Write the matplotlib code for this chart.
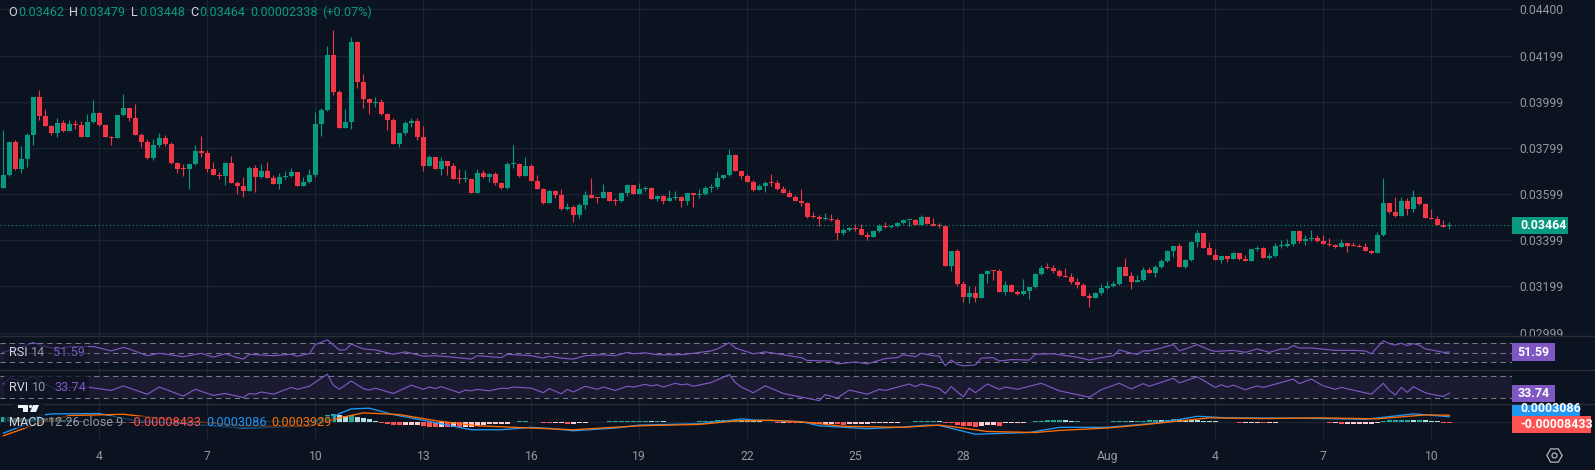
import numpy as np
import matplotlib
matplotlib.use("Agg")
import matplotlib.pyplot as plt
from matplotlib.patches import Rectangle, Polygon, Circle
from matplotlib.ticker import FormatStrFormatter

plt.rcParams['font.family'] = ['Roboto', 'DejaVu Sans']

# ---------- data (prices in units of 1e-5) ----------
first_open = 3627
last_open = 3462
closes = [
3682,3825,3708,3751,3855,4020,3939,3896,3864,3907,
3873,3903,3900,3847,3912,3951,3899,3847,3842,3942,
3972,3929,3855,3825,3756,3812,3842,3816,3734,3708,
3707,3730,3786,3779,3708,3682,3678,3734,3647,3634,
3612,3712,3673,3699,3669,3643,3673,3678,3695,3634,
3651,3682,3903,3964,4202,4042,3886,3912,4258,4085,
4011,3994,3998,3946,3920,3816,3864,3907,3916,3847,
3721,3760,3708,3743,3721,3665,3664,3665,3604,3691,
3673,3686,3647,3626,3730,3731,3678,3721,3656,3621,
3561,3613,3595,3535,3543,3509,3552,3595,3582,3581,
3608,3569,3568,3604,3639,3600,3621,3626,3578,3591,
3569,3582,3587,3569,3604,3595,3598,3626,3630,3669,
3682,3769,3699,3678,3652,3617,3634,3647,3646,3621,
3604,3587,3569,3560,3500,3499,3491,3492,3487,3430,
3443,3452,3449,3422,3413,3439,3461,3458,3461,3474,
3487,3488,3465,3500,3469,3462,3461,3287,3352,3209,
3153,3170,3149,3253,3266,3265,3175,3205,3175,3166,
3179,3196,3253,3279,3278,3266,3244,3240,3218,3205,
3157,3149,3170,3192,3201,3209,3283,3244,3218,3225,
3270,3257,3283,3309,3352,3374,3283,3313,3391,3430,
3365,3335,3313,3331,3318,3344,3318,3309,3361,3365,
3322,3331,3374,3375,3383,3439,3396,3403,3409,3396,
3383,3378,3370,3387,3374,3373,3372,3352,3344,3422,
3561,3521,3504,3569,3535,3587,3556,3495,3491,3465,3457,3464]
highs = [
3877,3825,3834,3808,3865,4020,4050,3968,3899,3929,
3920,3920,3920,3916,3946,4007,3955,3903,3851,3942,
4033,3972,3990,3862,3836,3838,3864,3855,3823,3738,
3730,3732,3812,3851,3790,3738,3695,3738,3764,3656,
3673,3721,3725,3730,3738,3682,3690,3699,3712,3695,
3673,3708,3955,3972,4241,4310,4050,3968,4280,4263,
4120,4016,4020,4011,3951,3929,3864,3916,3928,3929,
3894,3769,3760,3760,3743,3734,3708,3704,3665,3708,
3704,3691,3695,3652,3738,3812,3734,3760,3730,3682,
3626,3617,3617,3621,3561,3552,3561,3613,3669,3587,
3643,3608,3582,3604,3643,3639,3647,3634,3628,3595,
3595,3617,3613,3591,3604,3604,3621,3634,3643,3695,
3682,3795,3773,3704,3686,3660,3643,3656,3686,3660,
3634,3617,3595,3623,3565,3521,3508,3517,3513,3495,
3452,3456,3469,3469,3435,3443,3469,3478,3465,3478,
3491,3488,3491,3508,3500,3495,3474,3461,3352,3361,
3222,3201,3201,3257,3270,3270,3274,3222,3209,3183,
3231,3196,3257,3292,3300,3292,3274,3279,3257,3235,
3214,3170,3175,3209,3222,3222,3283,3322,3261,3248,
3283,3283,3292,3318,3357,3374,3387,3318,3396,3443,
3430,3391,3361,3331,3331,3348,3344,3335,3361,3374,
3370,3344,3387,3400,3404,3439,3443,3422,3443,3422,
3422,3409,3383,3404,3387,3391,3383,3387,3357,3435,
3669,3561,3587,3587,3582,3617,3591,3561,3534,3504,3487,3479]
lows = [
3627,3679,3704,3692,3718,3813,3920,3894,3857,3848,
3868,3872,3881,3847,3847,3907,3894,3847,3812,3842,
3938,3917,3855,3803,3753,3747,3803,3808,3730,3690,
3678,3621,3725,3760,3695,3682,3665,3638,3647,3600,
3586,3612,3608,3669,3669,3643,3621,3665,3673,3634,
3634,3647,3673,3851,3959,4029,3886,3886,3881,4059,
3972,3946,3977,3942,3877,3816,3803,3855,3890,3834,
3699,3721,3708,3682,3682,3665,3647,3652,3604,3604,
3669,3652,3639,3621,3621,3712,3673,3678,3656,3621,
3556,3561,3582,3530,3530,3478,3495,3535,3582,3560,
3581,3569,3552,3565,3591,3600,3600,3613,3578,3569,
3556,3569,3574,3543,3552,3543,3582,3595,3608,3621,
3665,3678,3699,3665,3652,3613,3617,3608,3634,3617,
3604,3587,3569,3547,3495,3495,3461,3487,3482,3400,
3422,3439,3439,3422,3400,3413,3435,3452,3452,3456,
3469,3461,3465,3465,3469,3461,3452,3287,3266,3201,
3131,3127,3131,3149,3214,3227,3175,3162,3175,3162,
3162,3144,3192,3248,3274,3257,3240,3240,3209,3192,
3157,3110,3149,3162,3188,3196,3205,3244,3188,3218,
3222,3257,3240,3279,3305,3326,3283,3279,3309,3370,
3365,3335,3313,3300,3305,3318,3313,3309,3309,3352,
3322,3318,3326,3365,3370,3374,3387,3378,3396,3391,
3383,3374,3365,3370,3348,3373,3372,3352,3339,3344,
3417,3517,3500,3504,3508,3521,3552,3495,3491,3465,3456,3448]

rsi_idx = [0,3,5,7,9,11,15,17,18,20,21,24,26,30,33,35,37,39,40,41,45,48,49,51,52,54,56,57,58,60,62,65,67,70,72,75,78,79,83,84,88,
90,91,93,95,97,100,102,104,105,107,109,113,115,118,119,121,122,125,127,133,134,138,139,142,144,147,149,150,152,153,155,156,157,158,159,160,162,163,165,166,168,171,172,175,176,
179,181,183,185,186,188,189,190,191,193,195,196,197,199,201,202,205,207,209,211,213,214,215,216,218,222,225,227,228,230,231,232,233,234,235,236,237,238,240,241]
rsi_val = [51,62,71,63,58,63,63,57,54,61,58,44,49,42,49,41,48,40,37,47,44,47,43,48,67,77,56,56,68,58,56,47,52,43,44,41,37,44,40,47,44,
39,43,39,37,44,46,44,51,48,50,46,46,49,54,58,71,60,48,52,40,34,33,27,31,27,38,40,46,42,49,44,43,23,35,26,23,25,39,40,33,36,35,47,48,46,
41,35,40,44,56,49,47,54,54,60,67,54,58,67,56,53,55,51,58,51,58,58,65,60,60,55,55,54,48,75,69,66,70,65,69,66,58,56,51,51.59]

rvi_idx = [0,1,3,5,7,9,11,14,18,20,24,26,30,32,35,37,40,41,42,43,45,48,49,51,54,55,56,58,60,61,62,65,68,70,71,72,73,76,77,78,79,81,83,84,85,88,
90,91,93,94,95,97,99,100,102,104,105,107,108,109,110,112,113,114,115,118,121,122,123,125,127,130,136,137,139,141,144,146,147,151,152,153,156,157,158,160,161,162,164,166,167,169,173,176,
181,183,186,188,190,191,195,196,199,202,203,204,205,207,209,210,215,216,218,220,222,223,228,230,231,232,233,234,235,237,238,240,241]
rvi_val = [58,73,66,78,58,41,49,50,41,53,31,50,26,44,28,33,22,33,31,37,31,49,44,52,84,55,44,66,46,42,47,33,55,44,50,46,51,35,42,40,44,40,47,46,50,47,
35,46,32,44,37,52,44,50,41,52,50,57,53,56,50,60,56,58,52,62,83,62,50,35,53,33,14,30,21,42,31,44,41,58,51,58,46,33,51,24,47,35,58,44,50,44,60,40,
23,43,60,45,59,52,73,61,77,49,56,50,55,43,53,49,71,59,71,53,44,49,31,60,41,29,49,36,51,35,31,25,33.74]

macd_idx = [0,3,6,8,16,22,34,40,50,54,56,58,61,65,70,78,83,88,91,95,102,106,116,120,123,125,133,136,144,150,154,156,159,162,171,176,184,191,195,199,204,216,227,230,235,241]
macd_val = [-65,-25,37,47,49,8,-20,-35,-25,4,49,76,80,43,10,-45,-45,-31,-37,-51,-35,-18,-10,4,18,12,2,-22,-39,-29,-18,-20,-45,-71,-61,-31,-31,-10,8,33,24,22,16,27,47,30.86]
signal_idx = [0,6,11,20,28,40,51,56,60,66,72,79,88,95,106,116,122,128,134,140,150,156,160,164,172,176,184,190,196,201,210,220,229,232,237,241]
signal_val = [-80,-6,37,45,14,-22,-25,24,53,43,8,-22,-35,-45,-22,-14,6,10,-2,-25,-31,-18,-35,-55,-61,-49,-35,-16,6,24,20,24,18,27,41,39.29]
hist_val = [
27,27,24,22,20,25,29,25,22,18,
14,10,8,4,2,1,-2,-4,-6,-6,
-5,-6,-7,-6,-8,-8,-7,-6,-6,-5,
-5,-4,-4,-4,-3,-3,-2,-2,-2,-1,
1,1,2,2,4,5,5,6,6,6,
8,10,18,30,43,49,39,35,39,31,
22,16,4,-6,-14,-16,-18,-18,-18,-18,
-24,-27,-29,-29,-31,-29,-31,-31,-31,-22,
-18,-14,-14,-10,-10,2,4,6,2,2,
-6,-8,-8,-8,-10,-10,-6,-4,1,1,
2,4,4,4,5,5,5,5,4,4,
3,2,1,1,1,2,6,7,8,9,
12,14,14,12,6,4,3,2,0,-6,
-6,-7,-8,-6,-8,-10,-12,-10,-10,-14,
-16,-14,-14,-12,-10,-8,-8,-7,-6,-6,
1,2,4,6,7,8,6,-6,-7,-16,
-24,-25,-30,-24,-20,-19,-21,-8,-8,-8,
-8,2,6,8,12,14,14,12,8,8,
2,2,1,1,2,6,8,8,6,6,
8,10,14,12,12,18,16,14,12,10,
8,6,3,2,1,1,-6,-6,-5,-3,
-6,-6,-5,1,1,1,1,1,1,1,
1,-8,-8,-9,-9,-9,-9,-9,-9,-7,
8,9,10,12,14,12,14,12,8,4,-6,-8.433]

price_ticks = [0.04400,0.04199,0.03999,0.03799,0.03599,0.03399,0.03199,0.02999]
date_idx = [16,34,52,70,88,106,124,142,160,184,202,220,238]
date_labels = ['4','7','10','13','16','19','22','25','28','Aug','4','7','10']
last_price = 0.03464

# ---------- style ----------
BG='#0c1320'; GRID='#1c2431'; SEP='#2a2e39'; UP='#089981'; DOWN='#f23645'
PURPLE='#7e57c2'; TXT='#d1d4dc'; AX='#9598a1'; BAND='#1a1a31'; DASH='#787b86'
W,H=1595,470
RIGHT=1512.0

fig=plt.figure(figsize=(W/100,H/100),dpi=100,facecolor=BG)
def pane(top,bot):
    a=fig.add_axes([0,(H-bot)/H,RIGHT/W,(bot-top)/H],facecolor=BG)
    for s in a.spines.values(): s.set_visible(False)
    a.set_xlim(-0.55,251.45)
    a.set_xticks(date_idx)
    a.grid(True,axis='x',color=GRID,lw=0.9)
    a.set_axisbelow(True)
    a.tick_params(length=0,labelbottom=False,labelleft=False)
    return a

# price pane
o_=np.array([first_open]+closes[:-1],float)*1e-5
o_[-1]=last_open*1e-5
c_=np.array(closes)*1e-5; h_=np.array(highs)*1e-5; l_=np.array(lows)*1e-5
x=np.arange(len(c_))
ax=pane(0,335.5)
ax.set_ylim(0.029863,0.044403)
ax.set_yticks(price_ticks)
ax.yaxis.tick_right()
ax.yaxis.set_major_formatter(FormatStrFormatter('%.5f'))
ax.grid(True,axis='y',color=GRID,lw=0.9)
ax.tick_params(axis='y',labelright=True,labelsize=8.7,labelcolor=AX,pad=5.6)
ax.tick_params(axis='x',labelbottom=False)
up=c_>=o_
cols=np.where(up,UP,DOWN)
ax.vlines(x,l_,h_,colors=cols,lw=0.8,zorder=3)
px=(0.044403-0.029863)/335.5
ax.bar(x,np.maximum(np.abs(c_-o_),px),bottom=np.minimum(o_,c_),width=0.82,color=cols,lw=0,zorder=4)
ax.axhline(last_price,color=UP,lw=0.8,ls=(0,(1,2.4)),zorder=5)

# RSI pane
a1=pane(335.5,369.6)
a1.set_ylim(15.2,85.9)
a1.axhspan(30,70,color=BAND,lw=0,zorder=1)
for v in (70,50,30): a1.axhline(v,color=DASH,lw=0.75,ls=(0,(5,4)),zorder=2)
a1.plot(rsi_idx,rsi_val,color=PURPLE,lw=0.85,zorder=3)

# RVI pane
a2=pane(369.6,404.4)
a2.set_ylim(4.1,96.1)
a2.axhspan(20,80,color=BAND,lw=0,zorder=1)
for v in (80,20): a2.axhline(v,color=DASH,lw=0.75,ls=(0,(5,4)),zorder=2)
a2.plot(rvi_idx,rvi_val,color=PURPLE,lw=0.85,zorder=3)

# MACD pane
a3=pane(404.4,440)
a3.set_ylim(-104.4e-5,102e-5)
a3.set_yticks([0])
a3.grid(True,axis='y',color=GRID,lw=0.9)
hv=np.array(hist_val)*1e-5
hc=[]
for i,v in enumerate(hv):
    p=hv[i-1] if i else v
    if v>=0: hc.append('#26a69a' if v>=p else '#b2dfdb')
    else: hc.append('#ffcdd2' if v>=p else '#ff5252')
a3.bar(x,hv,width=0.78,color=hc,lw=0,zorder=2)
a3.plot(macd_idx,np.array(macd_val)*1e-5,color='#2196f3',lw=0.95,zorder=3)
a3.plot(signal_idx,np.array(signal_val)*1e-5,color='#ff6d00',lw=0.95,zorder=4)
a3.set_xticklabels(date_labels)
a3.tick_params(axis='x',labelbottom=True,labelsize=8.7,labelcolor=AX,pad=7)

# overlay in pixel coordinates for legends and axis badges
ov=fig.add_axes([0,0,1,1],facecolor='none',zorder=10)
ov.set_xlim(0,W); ov.set_ylim(H,0); ov.axis('off')
def rect(x0,y0,x1,y1,color,alpha=1,z=1):
    r=Rectangle((x0,y0),x1-x0,y1-y0,fc=color,ec='none',alpha=alpha,zorder=z); ov.add_patch(r); return r
def txt(x0,y,s,color,size=9,weight='normal',ha='left',z=6,**k):
    return ov.text(x0,y,s,color=color,fontsize=size,fontweight=weight,ha=ha,va='center',zorder=z,**k)

rect(RIGHT,335.5,W,470,BG,z=1)
for y in (335.5,369.6,404.4):
    ov.plot([0,W],[y,y],color=SEP,lw=1,zorder=2)

# legend veils
rect(4,344,88,362,BG,0.55,z=3)
rect(4,376,88.6,397.7,BG,0.75,z=3)
rect(4,416,333,428,BG,0.65,z=3)

# top OHLC line
for xp,s,col in [(8,'O',TXT),(18,'0.03462',UP),(69.3,'H',TXT),(79,'0.03479',UP),(131,'L',TXT),(139,'0.03448',UP),
                 (190,'C',TXT),(199,'0.03464',UP),(250.7,'0.00002338',UP),(321.7,'(+0.07%)',UP)]:
    txt(xp,12.7,s,col,size=9.1)

# indicator legends
txt(9,353,'RSI',TXT,size=9.1); txt(31.4,353,'14',AX,size=9.1); txt(53,353,'51.59',PURPLE,size=9.1)
txt(9,387.5,'RVI',TXT,size=9.1); txt(32,387.5,'10',AX,size=9.1); txt(54,387.5,'33.74',PURPLE,size=9.1)
txt(9,422,'MACD',TXT,size=9.1); txt(48,422,'12 26 close 9',AX,size=9.1)
txt(131,422,'-0.00008433','#ff5252',size=9.1); txt(206,422,'0.0003086','#2196f3',size=9.1); txt(271.5,422,'0.0003929','#ff6d00',size=9.1)

# logo
rect(12,404.4,45,416,'#10161f',0.9,z=4)
rect(17.6,405,27.7,408,'#f0f3fa',z=5); rect(23,405,27.7,412,'#f0f3fa',z=5)
ov.add_patch(Circle((30.5,406.5),1.6,fc='#f0f3fa',ec='none',zorder=5))
ov.add_patch(Polygon([[33,405],[39,405],[36,412],[30,412]],fc='#f0f3fa',ec='none',zorder=5))

# badges
rect(RIGHT,217.3,1567.7,234,UP,z=4); txt(1520,225.7,'0.03464','white',size=8.9,weight='bold')
rect(RIGHT,343.4,1554.7,360.8,PURPLE,z=4); txt(1533.3,352.2,'51.59','white',size=8.9,weight='bold',ha='center')
rect(RIGHT,385.4,1554.7,402.4,PURPLE,z=4); txt(1533.3,393.9,'33.74','white',size=8.9,weight='bold',ha='center')
blue=rect(RIGHT,404.9,1579.6,416,'#2196f3',z=4)
t=txt(1520,408.6,'0.0003086','white',size=8.9,weight='bold')
t.set_clip_path(blue)
rect(RIGHT,416,1590.5,433,'#ff5252',z=5); txt(1520,424.5,'-0.00008433','white',size=8.9,weight='bold')

# settings icon
ov.plot([1554],[454.6],marker='H',ms=11,mfc='none',mec='#b2b5be',mew=0.9,zorder=5)
ov.plot([1554],[454.6],marker='o',ms=3.6,mfc='none',mec='#b2b5be',mew=0.9,zorder=5)

fig.savefig('out.png',dpi=100,facecolor=BG)
